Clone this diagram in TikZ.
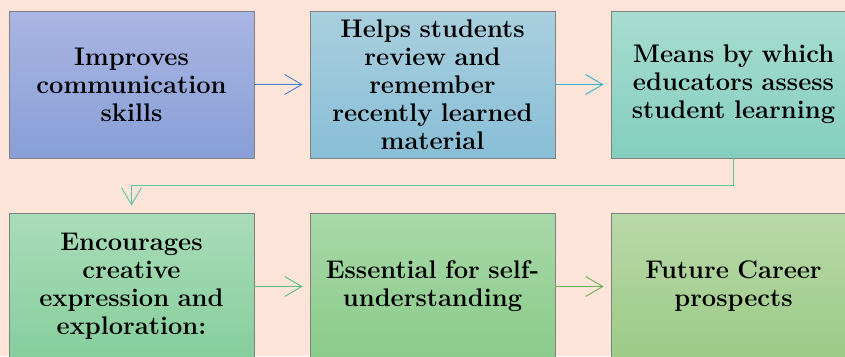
\documentclass[tikz,border=0pt]{standalone}
\usepackage{fontspec}
\setmainfont{Latin Modern Roman}
\usetikzlibrary{arrows.meta}
\definecolor{bgc}{HTML}{FCE4D8}
\definecolor{bordc}{HTML}{808080}
\definecolor{t1}{HTML}{A9B5E2}\definecolor{u1}{HTML}{889FD8}
\definecolor{t2}{HTML}{A9CFDE}\definecolor{u2}{HTML}{88BED6}
\definecolor{t3}{HTML}{A7DDD0}\definecolor{u3}{HTML}{84CEBE}
\definecolor{t4}{HTML}{A9DCB8}\definecolor{u4}{HTML}{86CE9C}
\definecolor{t5}{HTML}{A8D8A8}\definecolor{u5}{HTML}{8ACB8A}
\definecolor{t6}{HTML}{B8D8A8}\definecolor{u6}{HTML}{9CCB86}
\definecolor{a1}{HTML}{4A7DCA}
\definecolor{a2}{HTML}{3AAEC8}
\definecolor{a3}{HTML}{5CC49E}
\definecolor{a4}{HTML}{58BE78}
\definecolor{a5}{HTML}{6AAE5C}
\tikzset{
  box/.style={draw=bordc, line width=0.9pt, minimum width=245pt, minimum height=147pt,
    text width=240pt, inner sep=0pt, align=center, font=\bfseries\fontsize{25.5}{28}\selectfont, text=black},
  link/.style={line width=0.9pt, -{Straight Barb[length=17pt,width=20pt,line width=0.9pt]}, shorten >=7pt}
}
\begin{document}
\begin{tikzpicture}[x=1pt,y=-1pt]
\useasboundingbox (0,0) rectangle (845,356);
\clip (0,0) rectangle (845,356);
\fill[bgc] (0,0) rectangle (845,356);
\node[box, top color=t1, bottom color=u1] (b1) at (131.5,84.5) {Improves\\communication\\skills};
\node[box, top color=t2, bottom color=u2] (b2) at (432.5,84.5) {Helps students\\review and\\remember\\recently learned\\material};
\node[box, top color=t3, bottom color=u3] (b3) at (733.5,84.5) {Means by which\\educators assess\\student learning};
\node[box, top color=t4, bottom color=u4] (b4) at (131.5,286.5) {Encourages\\creative\\expression and\\exploration:};
\node[box, top color=t5, bottom color=u5] (b5) at (432.5,286.5) {Essential for self-\\understanding};
\node[box, top color=t6, bottom color=u6] (b6) at (733.5,286.5) {Future Career\\prospects};
\draw[link, color=a1] (b1.east) -- (b2.west);
\draw[link, color=a2] (b2.east) -- (b3.west);
\coordinate (turn) at ([yshift=-27pt]b3.south);
\draw[link, color=a3] (b3.south) -- (turn) -| (b4.north);
\draw[link, color=a4] (b4.east) -- (b5.west);
\draw[link, color=a5] (b5.east) -- (b6.west);
\end{tikzpicture}
\end{document}
